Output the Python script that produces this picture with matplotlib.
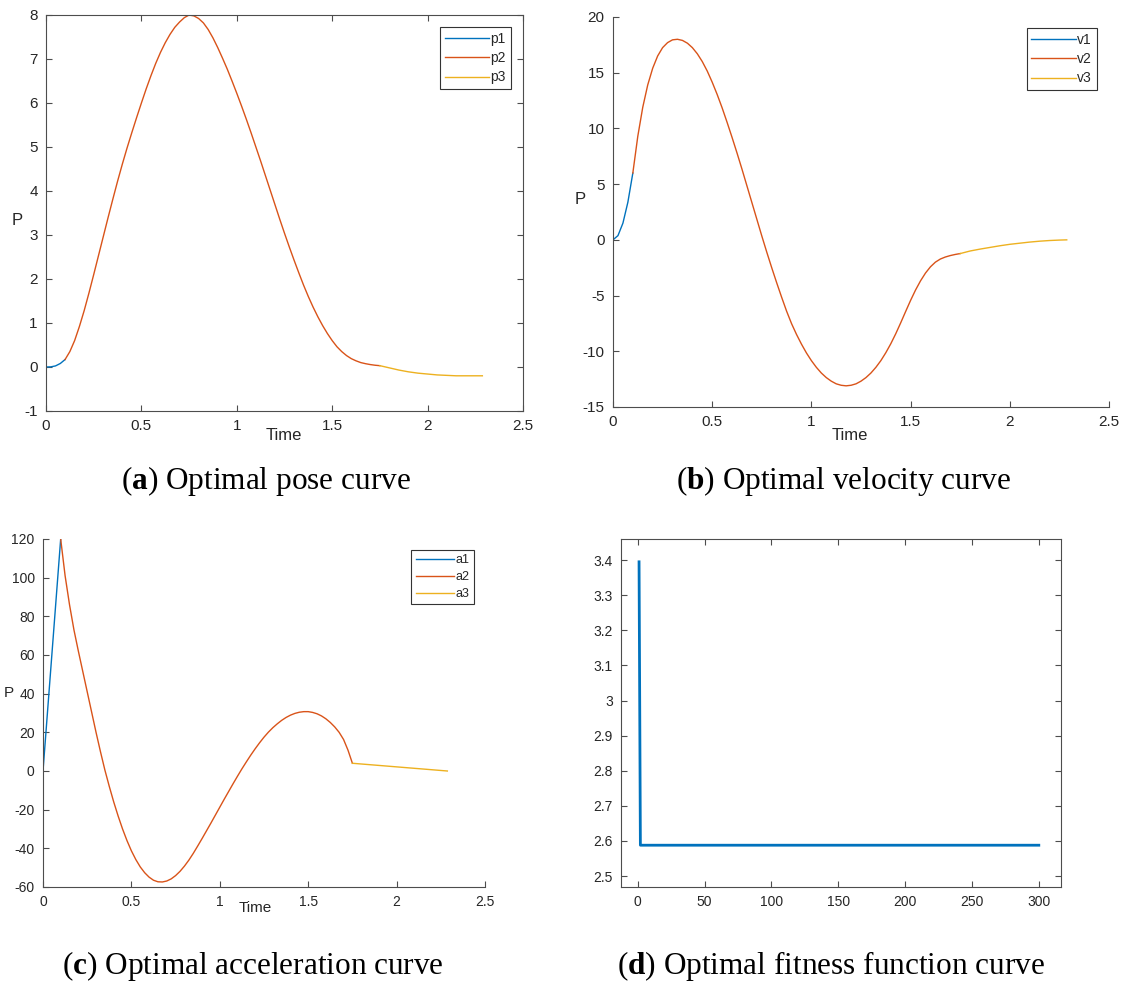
import numpy as np
import matplotlib
matplotlib.use('Agg')
import matplotlib.pyplot as plt
from matplotlib.ticker import FormatStrFormatter, MultipleLocator

plt.rcParams['font.family'] = ['Liberation Sans', 'DejaVu Sans']
plt.rcParams['mathtext.fontset'] = 'custom'
plt.rcParams['mathtext.rm'] = 'Liberation Serif'
plt.rcParams['mathtext.bf'] = 'Liberation Serif:bold'

# ---- time samples ----
t_1 = [0, 0.025, 0.05, 0.075, 0.1]
t_2 = [0.1, 0.125, 0.15, 0.175, 0.2, 0.225, 0.25, 0.275, 0.3, 0.325, 0.35,
       0.375, 0.4, 0.425, 0.45, 0.475, 0.5, 0.525, 0.55, 0.575, 0.6, 0.625,
       0.65, 0.675, 0.7, 0.725, 0.75, 0.775, 0.8, 0.825, 0.85, 0.875, 0.9,
       0.925, 0.95, 0.975, 1.0, 1.025, 1.05, 1.075, 1.1, 1.125, 1.15, 1.175,
       1.2, 1.225, 1.25, 1.275, 1.3, 1.325, 1.35, 1.375, 1.4, 1.425, 1.45,
       1.475, 1.5, 1.525, 1.55, 1.575, 1.6, 1.625, 1.65, 1.675, 1.7, 1.725, 1.75]
t_3 = [1.75, 1.8, 1.85, 1.9, 1.95, 2.0, 2.05, 2.1, 2.15, 2.2, 2.25, 2.287]

# ---- pose ----
p1 = [0, 0.003, 0.025, 0.08, 0.17]
p2 = [0.17, 0.35, 0.6, 0.92, 1.28, 1.68, 2.1, 2.53, 2.96, 3.39, 3.81,
      4.22, 4.61, 4.98, 5.33, 5.67, 6.0, 6.32, 6.62, 6.9, 7.15, 7.37,
      7.56, 7.72, 7.84, 7.94, 8.0, 7.98, 7.92, 7.82, 7.67, 7.48, 7.26,
      7.02, 6.77, 6.5, 6.22, 5.93, 5.63, 5.32, 5.0, 4.68, 4.35, 4.02,
      3.69, 3.36, 3.04, 2.73, 2.43, 2.14, 1.86, 1.6, 1.36, 1.14, 0.94,
      0.76, 0.6, 0.46, 0.35, 0.26, 0.19, 0.14, 0.1, 0.075, 0.055, 0.04, 0.03]
p3 = [0.03, -0.02, -0.07, -0.11, -0.14, -0.16, -0.18, -0.19, -0.2, -0.2,
      -0.2, -0.2]

# ---- velocity ----
v1 = [0, 0.38, 1.5, 3.38, 6.0]
v2 = [6.0, 9.3, 11.9, 13.9, 15.4, 16.5, 17.25, 17.7, 17.95, 18.0, 17.9,
      17.65, 17.25, 16.7, 16.0, 15.15, 14.15, 13.05, 11.85, 10.55, 9.2, 7.8,
      6.35, 4.85, 3.35, 1.85, 0.35, -1.1, -2.5, -3.85, -5.15, -6.4, -7.52,
      -8.49, -9.36, -10.15, -10.84, -11.44, -11.95, -12.36, -12.68, -12.92, -13.05, -13.1,
      -13.05, -12.92, -12.68, -12.36, -11.95, -11.44, -10.84, -10.13, -9.33, -8.43, -7.45,
      -6.43, -5.43, -4.5, -3.68, -2.98, -2.42, -2.0, -1.72, -1.54, -1.41, -1.31, -1.23]
v3 = [-1.23, -1.0, -0.83, -0.68, -0.53, -0.4, -0.3, -0.2, -0.12, -0.06,
      -0.02, 0.0]

# ---- acceleration ----
t_a1 = [0, 0.1]
a1 = [0, 120]
a2 = [120, 101, 86, 73, 62, 51.5, 41, 30.5, 20, 10, 0.5,
      -8, -16, -23.3, -30, -36, -41.3, -45.8, -49.6, -52.6, -54.9, -56.5,
      -57.3, -57.4, -56.9, -55.8, -54.1, -51.9, -49.2, -46.1, -42.6, -38.8, -34.9,
      -30.9, -26.9, -22.8, -18.7, -14.6, -10.6, -6.6, -2.7, 1.1, 4.7, 8.2,
      11.5, 14.6, 17.5, 20.1, 22.4, 24.4, 26.2, 27.7, 28.9, 29.8, 30.4,
      30.7, 30.7, 30.3, 29.6, 28.5, 27.0, 25.1, 22.8, 20.0, 16.3, 10.8, 4.0]
t_a3 = [1.75, 2.287]
a3 = [4.0, 0.0]

# ---- fitness ----
gens = [1, 2, 300]
fitness = [3.395, 2.588, 2.588]

C1, C2, C3 = '#0072BD', '#D95319', '#EDB120'
AX_COL = '#4d4d4d'
TXT_COL = '#262626'
W, H = 1135, 994


def px_axes(fig, left, right, top, bottom):
    return fig.add_axes([left / W, 1 - bottom / H, (right - left) / W, (bottom - top) / H])


def style(ax, box, fs):
    for s in ax.spines.values():
        s.set_color(AX_COL)
        s.set_linewidth(0.8)
    if not box:
        ax.spines['top'].set_visible(False)
        ax.spines['right'].set_visible(False)
    ax.tick_params(direction='in', length=4, width=0.8, color=AX_COL,
                   labelcolor=TXT_COL, labelsize=fs, pad=6,
                   top=box, right=box)
    ax.xaxis.set_major_formatter(FormatStrFormatter('%g'))
    ax.yaxis.set_major_formatter(FormatStrFormatter('%g'))


def labels(ax, fs, xpos, ypos):
    ax.set_xlabel('Time', fontsize=fs, color=TXT_COL)
    ax.xaxis.set_label_coords(*xpos)
    ax.xaxis.label.set_va('center')
    ax.set_ylabel('P', fontsize=fs, color=TXT_COL, rotation=0)
    ax.yaxis.set_label_coords(*ypos)
    ax.yaxis.label.set_va('center')
    ax.yaxis.label.set_ha('center')


def legend(ax, names, corner, fs, hl):
    leg = ax.legend(names, loc='upper right', bbox_to_anchor=(corner[0] / W, 1 - corner[1] / H),
                    bbox_transform=ax.figure.transFigure, fontsize=fs, frameon=True,
                    fancybox=False, framealpha=1, borderaxespad=0, borderpad=0.35,
                    handlelength=hl, handletextpad=0.1, labelspacing=0.38)
    leg.get_frame().set_edgecolor('#333333')
    leg.get_frame().set_linewidth(0.8)
    for t in leg.get_texts():
        t.set_color(TXT_COL)


fig = plt.figure(figsize=(W / 100, H / 100), dpi=100)

# (a) pose
ax = px_axes(fig, 46, 523, 15, 411)
ax.plot(t_1, p1, color=C1, lw=1)
ax.plot(t_2, p2, color=C2, lw=1)
ax.plot(t_3, p3, color=C3, lw=1)
ax.set_xlim(0, 2.5)
ax.set_ylim(-1, 8)
ax.xaxis.set_major_locator(MultipleLocator(0.5))
ax.yaxis.set_major_locator(MultipleLocator(1))
style(ax, True, 11)
labels(ax, 12, (0.499, -0.061), (-0.061, 0.482))
legend(ax, ['p1', 'p2', 'p3'], (511, 27), 10, 3.2)

# (b) velocity
ax = px_axes(fig, 613, 1109, 17, 407)
ax.plot(t_1, v1, color=C1, lw=1)
ax.plot(t_2, v2, color=C2, lw=1)
ax.plot(t_3, v3, color=C3, lw=1)
ax.set_xlim(0, 2.5)
ax.set_ylim(-15, 20)
ax.xaxis.set_major_locator(MultipleLocator(0.5))
ax.yaxis.set_major_locator(MultipleLocator(5))
style(ax, False, 11)
labels(ax, 12, (0.478, -0.072), (-0.067, 0.533))
legend(ax, ['v1', 'v2', 'v3'], (1097, 28), 10, 3.2)

# (c) acceleration
ax = px_axes(fig, 43, 485, 539, 887)
ax.plot(t_a1, a1, color=C1, lw=1)
ax.plot(t_2, a2, color=C2, lw=1)
ax.plot(t_a3, a3, color=C3, lw=1)
ax.set_xlim(0, 2.5)
ax.set_ylim(-60, 120)
ax.xaxis.set_major_locator(MultipleLocator(0.5))
ax.yaxis.set_major_locator(MultipleLocator(20))
style(ax, False, 10)
labels(ax, 11, (0.48, -0.06), (-0.077, 0.557))
legend(ax, ['a1', 'a2', 'a3'], (474, 550), 9, 3.1)

# (d) fitness
ax = px_axes(fig, 621, 1061, 539, 887)
ax.plot(gens, fitness, color=C1, lw=2)
ax.set_xlim(-12.5, 316.6)
ax.set_ylim(2.469, 3.46)
ax.xaxis.set_major_locator(MultipleLocator(50))
ax.yaxis.set_major_locator(MultipleLocator(0.1))
style(ax, True, 10)

# captions
cap = dict(ha='center', va='center', family='Liberation Serif', fontsize=22.5, color='black')
fig.text(266 / W, 1 - 481 / H, r'($\mathbf{a}$) Optimal pose curve', **cap)
fig.text(843 / W, 1 - 481 / H, r'($\mathbf{b}$) Optimal velocity curve', **cap)
fig.text(253 / W, 1 - 966 / H, r'($\mathbf{c}$) Optimal acceleration curve', **cap)
fig.text(831 / W, 1 - 966 / H, r'($\mathbf{d}$) Optimal fitness function curve', **cap)

fig.savefig('out.png', dpi=100)
